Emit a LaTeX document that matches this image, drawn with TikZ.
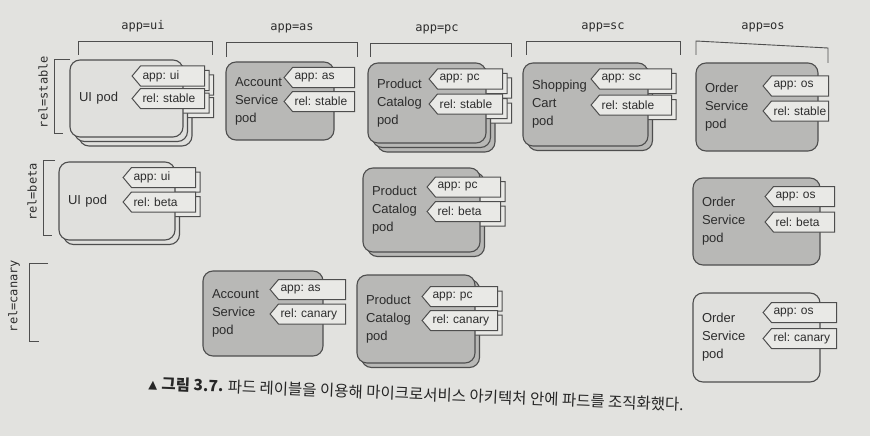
\documentclass[tikz,border=0pt]{standalone}
\usepackage{fontspec}
\setmainfont{Liberation Sans}
\newfontfamily\monofont{DejaVu Sans Mono}
\newfontfamily\cjk{Noto Sans CJK KR}
\newfontfamily\symfont{DejaVu Sans}
\usetikzlibrary{shapes.symbols}
\definecolor{paper}{RGB}{226,226,223}
\definecolor{podlight}{RGB}{224,224,221}
\definecolor{poddark}{RGB}{184,184,182}
\definecolor{tagfill}{RGB}{233,233,230}
\definecolor{edge}{RGB}{78,78,78}
\definecolor{ink}{RGB}{45,45,45}
\frenchspacing
\begin{document}
\begin{tikzpicture}[x=1pt, y=-1pt,
  pod/.style={draw=edge, line width=1.1pt, rounded corners=10pt, align=left, inner xsep=9pt, text=ink, font=\fontsize{13}{18}\selectfont},
  tag/.style={signal, signal to=west, signal pointer angle=100, draw=edge, line width=1pt, fill=tagfill, anchor=east, align=left, inner xsep=2pt, inner ysep=0pt, minimum height=20pt, text=ink, font=\fontsize{12}{15}\selectfont},
  group/.style={draw=edge, line width=0.9pt},
  grouplabel/.style={text=ink, font=\monofont\fontsize{12}{14}\selectfont}]
\useasboundingbox (0,0) rectangle (870,436);
\fill[paper] (0,0) rectangle (870,436);

% column groups
\draw[group] (78,55) -- (78,41) -- (212,41) -- (212,55);
\draw[group] (226,57) -- (226,42) -- (357,42) -- (357,57);
\draw[group] (370,57) -- (370,43) -- (511,43) -- (511,57);
\draw[group] (526,55) -- (526,41) -- (680,41) -- (680,55);
\draw[group] (696,55) -- (696,41) -- (828,48) -- (828,63);
\node[grouplabel] (appui) at (143,26) {app=ui};
\node[grouplabel] (appas) at (292,28) {app=as};
\node[grouplabel] (apppc) at (437,29) {app=pc};
\node[grouplabel] (appsc) at (603,27) {app=sc};
\node[grouplabel] (appos) at (763,27) {app=os};

% row groups
\draw[group] (70,59) -- (54,59) -- (54,133) -- (63,133);
\draw[group] (55,160) -- (43,160) -- (43,235) -- (52,235);
\draw[group] (48,263) -- (29,263) -- (29,341) -- (39,341);
\node[grouplabel, rotate=90] (relstable) at (43,92) {rel=stable};
\node[grouplabel, rotate=90] (relbeta) at (32,192) {rel=beta};
\node[grouplabel, rotate=90] (relcanary) at (14,296) {rel=canary};

% pods: name/left/top/right/bottom/fill/extra layers/text/app/rel/tag right/tag width/app y/rel y
\foreach \n/\l/\t/\r/\b/\f/\k/\txt/\app/\rel/\tr/\tw/\ay/\ry in {
  uiS/70/60/183/137/podlight/2/{UI pod}/ui/stable/205/72/76/98.5,
  asS/226/62/334/140/poddark/0/{Account\\Service\\pod}/as/stable/355/70/77.5/101.5,
  pcS/368/63/486/143/poddark/2/{Product\\Catalog\\pod}/pc/stable/503/73/79/104,
  scS/523/63/648/146/poddark/1/{Shopping\\Cart\\pod}/sc/stable/672/80/79/105,
  osS/696/63/818/151/poddark/0/{Order\\Service\\pod}/os/stable/829/65/86/111,
  uiB/59/162/175/240/podlight/1/{UI pod}/ui/beta/196/72/177.5/202,
  pcB/363/168/480/252/poddark/1/{Product\\Catalog\\pod}/pc/beta/501/73/187/211.5,
  osB/693/178/820/265/poddark/0/{Order\\Service\\pod}/os/beta/835/69/196.5/222,
  asC/203/271/323/356/poddark/0/{Account\\Service\\pod}/as/canary/346/75/289.5/314,
  pcC/357/275/475/363/poddark/1/{Product\\Catalog\\pod}/pc/canary/498/75/296.5/320.5,
  osC/693/293/820/382/podlight/0/{Order\\Service\\pod}/os/canary/837/73/312.5/338.5}{
  \pgfmathsetmacro\pw{\r-\l}
  \pgfmathsetmacro\ph{\b-\t}
  \pgfmathsetmacro\tx{\r-\l-18}
  \pgfmathsetmacro\ttx{\tw-12}
  \foreach \i in {\k,...,0}{
    \begin{scope}[shift={(4.5*\i,4.5*\i)}]
      \node[pod, fill=\f, minimum width=\pw pt, minimum height=\ph pt, text width=\tx pt] (\n-\i) at ({(\l+\r)/2},{(\t+\b)/2}) {\ifnum\i=0 \txt\fi};
      \node[tag, text width=\ttx pt] (\n-\i-app) at (\tr,\ay) {\ifnum\i=0 \mbox{app: \app}\fi};
      \node[tag, text width=\ttx pt] (\n-\i-rel) at (\tr,\ry) {\ifnum\i=0 \mbox{rel: \rel}\fi};
    \end{scope}
  }
}

% caption
\node[rotate=-2.3, anchor=west, text=black!85, font=\fontsize{15.5}{17}\selectfont] (caption) at (145,383)
  {{\symfont\fontsize{11.5}{17}\selectfont ▲} {\cjk\bfseries 그림 3.7.} {\cjk 파드 레이블을 이용해 마이크로서비스 아키텍처 안에 파드를 조직화했다.}};
\end{tikzpicture}
\end{document}
